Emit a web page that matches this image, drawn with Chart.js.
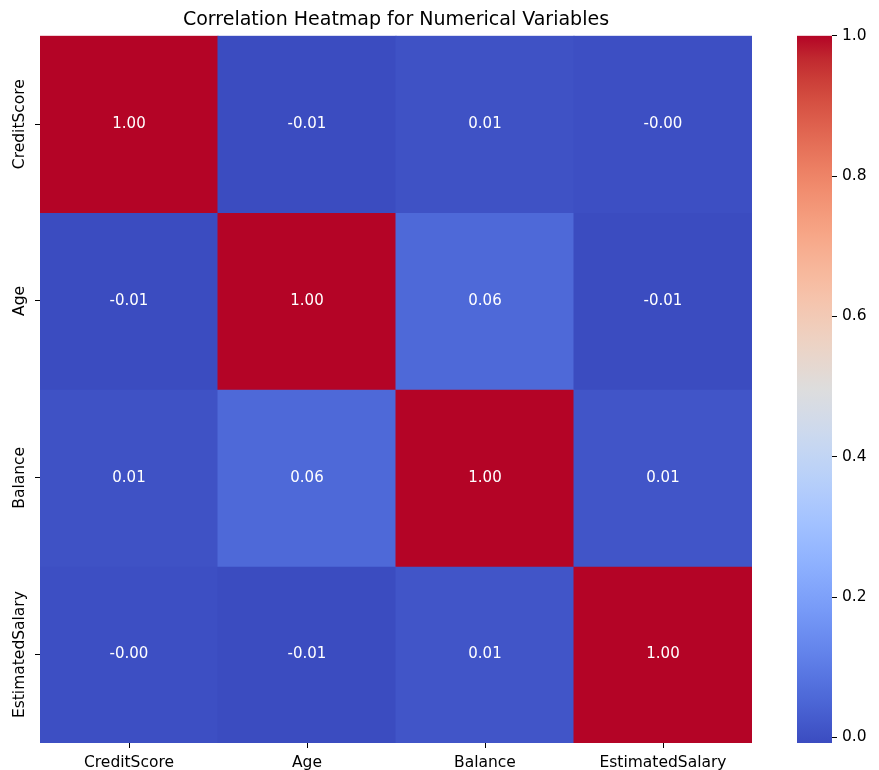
<!DOCTYPE html>
<html>
<head>
<meta charset="utf-8">
<script src="https://cdn.jsdelivr.net/npm/chart.js@4.4.1/dist/chart.umd.min.js"></script>
<style>
  html, body { margin: 0; padding: 0; background: #fff; }
  #wrap { position: relative; width: 879px; height: 770px; overflow: hidden; }
  #heat { position: absolute; left: 0; top: 0; }
  #cbar { position: absolute; left: 760px; top: 0; }
</style>
</head>
<body>
<div id="wrap">
  <canvas id="heat" width="760" height="770"></canvas>
  <canvas id="cbar" width="119" height="770"></canvas>
</div>
<script>
// Variables compared in the correlation matrix
const variables = ['CreditScore', 'Age', 'Balance', 'EstimatedSalary'];

// Pearson correlation, one array per row
const rowCreditScore     = [1.00, -0.008, 0.006, -0.001];
const rowAge             = [-0.008, 1.00, 0.058, -0.007];
const rowBalance         = [0.006, 0.058, 1.00, 0.013];
const rowEstimatedSalary = [-0.001, -0.007, 0.013, 1.00];
const matrix = [rowCreditScore, rowAge, rowBalance, rowEstimatedSalary];

// Colour scale range and colour bar ticks
const vmin = -0.008;
const vmax = 1.0;
const colorbarTicks = [0.0, 0.2, 0.4, 0.6, 0.8, 1.0];

// Diverging blue–white–red "coolwarm" scale (33 anchors)
const coolwarm = [
  [59,76,192],[68,90,204],[77,104,215],[87,117,225],[98,130,234],[108,142,241],
  [119,154,247],[130,165,251],[141,176,254],[152,185,255],[163,194,255],[174,201,253],
  [184,208,249],[194,213,244],[204,217,238],[213,219,230],[221,221,221],[229,216,209],
  [236,211,197],[241,204,185],[245,196,173],[247,187,160],[247,177,148],[247,166,135],
  [244,154,123],[241,141,111],[236,127,99],[229,112,88],[222,96,77],[213,80,66],
  [203,62,56],[192,40,47],[180,4,38]
];

function cmap(t) {
  t = Math.min(1, Math.max(0, t));
  const pos = t * (coolwarm.length - 1);
  const i = Math.min(coolwarm.length - 2, Math.floor(pos));
  const f = pos - i;
  const a = coolwarm[i], b = coolwarm[i + 1];
  const c = a.map((v, k) => Math.round(v + (b[k] - v) * f));
  return `rgb(${c[0]},${c[1]},${c[2]})`;
}
const norm = v => (v - vmin) / (vmax - vmin);

const FONT = "'DejaVu Sans', 'Liberation Sans', sans-serif";

// One floating-bar dataset per matrix row, spanning [row, row + 1]
const datasets = matrix.map((row, r) => ({
  label: variables[r],
  data: row.map(() => [r, r + 1]),
  values: row,
  backgroundColor: row.map(v => cmap(norm(v))),
  borderWidth: 0,
  borderSkipped: false,
  grouped: false,
  barPercentage: 1.0,
  categoryPercentage: 1.0,
  inflateAmount: 0.5
}));

// Writes each coefficient in the middle of its cell
const cellLabels = {
  id: 'cellLabels',
  afterDatasetsDraw(chart) {
    const ctx = chart.ctx;
    ctx.save();
    ctx.font = `15px ${FONT}`;
    ctx.fillStyle = '#ffffff';
    ctx.textAlign = 'center';
    ctx.textBaseline = 'middle';
    chart.data.datasets.forEach((ds, di) => {
      const meta = chart.getDatasetMeta(di);
      meta.data.forEach((el, i) => {
        const cy = (el.y + el.base) / 2;
        ctx.fillText(ds.values[i].toFixed(2), el.x, cy);
      });
    });
    ctx.restore();
  }
};

// Row names, written vertically and centred on each y tick
const rowLabels = {
  id: 'rowLabels',
  afterDraw(chart) {
    const scale = chart.scales.y;
    const ctx = chart.ctx;
    ctx.save();
    ctx.font = `15.5px ${FONT}`;
    ctx.fillStyle = '#000';
    ctx.textAlign = 'center';
    ctx.textBaseline = 'middle';
    scale.ticks.forEach(t => {
      const y = scale.getPixelForValue(t.value);
      ctx.save();
      ctx.translate(20, y);
      ctx.rotate(-Math.PI / 2);
      ctx.fillText(variables[Math.floor(t.value)], 0, 0);
      ctx.restore();
    });
    ctx.restore();
  }
};

new Chart(document.getElementById('heat'), {
  type: 'bar',
  data: { labels: variables, datasets },
  options: {
    responsive: false,
    animation: false,
    events: [],
    layout: { padding: { left: 0, right: 8, top: 0, bottom: 0 } },
    plugins: {
      legend: { display: false },
      tooltip: { enabled: false },
      title: {
        display: true,
        fullSize: false,
        text: 'Correlation Heatmap for Numerical Variables',
        color: '#000',
        font: { family: FONT, size: 19, weight: 'normal' },
        padding: { top: 8.5, bottom: 4.4 }
      }
    },
    scales: {
      x: {
        type: 'category',
        offset: true,
        grid: { offset: false, drawOnChartArea: false, drawTicks: true, tickLength: 5, color: '#000', lineWidth: 1 },
        border: { display: false },
        ticks: { color: '#000', font: { family: FONT, size: 15.5 }, padding: 5.5, maxRotation: 0, minRotation: 0 },
        afterFit: s => { s.height = 27; }
      },
      y: {
        type: 'linear',
        min: 0,
        max: 4,
        reverse: true,
        afterBuildTicks: s => { s.ticks = variables.map((_, i) => ({ value: i + 0.5 })); },
        grid: { drawOnChartArea: false, drawTicks: true, tickLength: 5, color: '#000', lineWidth: 1 },
        border: { display: false },
        ticks: { display: false },
        afterFit: s => { s.width = 40; }
      }
    }
  },
  plugins: [cellLabels, rowLabels]
});

// Colour bar: one floating bar from vmin to vmax filled with the scale
function barGradient(context) {
  const chart = context.chart;
  const area = chart.chartArea;
  if (!area) return cmap(0.5);
  const g = chart.ctx.createLinearGradient(0, area.bottom, 0, area.top);
  coolwarm.forEach((_, i) => {
    const t = i / (coolwarm.length - 1);
    g.addColorStop(t, cmap(t));
  });
  return g;
}

new Chart(document.getElementById('cbar'), {
  type: 'bar',
  data: {
    labels: ['r'],
    datasets: [{
      data: [[vmin, vmax]],
      backgroundColor: barGradient,
      borderWidth: 0,
      borderSkipped: false,
      barPercentage: 1.0,
      categoryPercentage: 1.0
    }]
  },
  options: {
    responsive: false,
    animation: false,
    events: [],
    layout: { padding: { left: 37, right: 0, top: 35.7, bottom: 27 } },
    plugins: { legend: { display: false }, tooltip: { enabled: false } },
    scales: {
      x: { display: false },
      y: {
        type: 'linear',
        position: 'right',
        min: vmin,
        max: vmax,
        afterBuildTicks: s => { s.ticks = colorbarTicks.map(v => ({ value: v })); },
        grid: { drawOnChartArea: false, drawTicks: true, tickLength: 5, color: '#000', lineWidth: 1 },
        border: { display: false },
        ticks: {
          color: '#000',
          font: { family: FONT, size: 15.5 },
          padding: 5,
          callback: v => Number(v).toFixed(1)
        },
        afterFit: s => { s.width = 47; }
      }
    }
  }
});
</script>
</body>
</html>
